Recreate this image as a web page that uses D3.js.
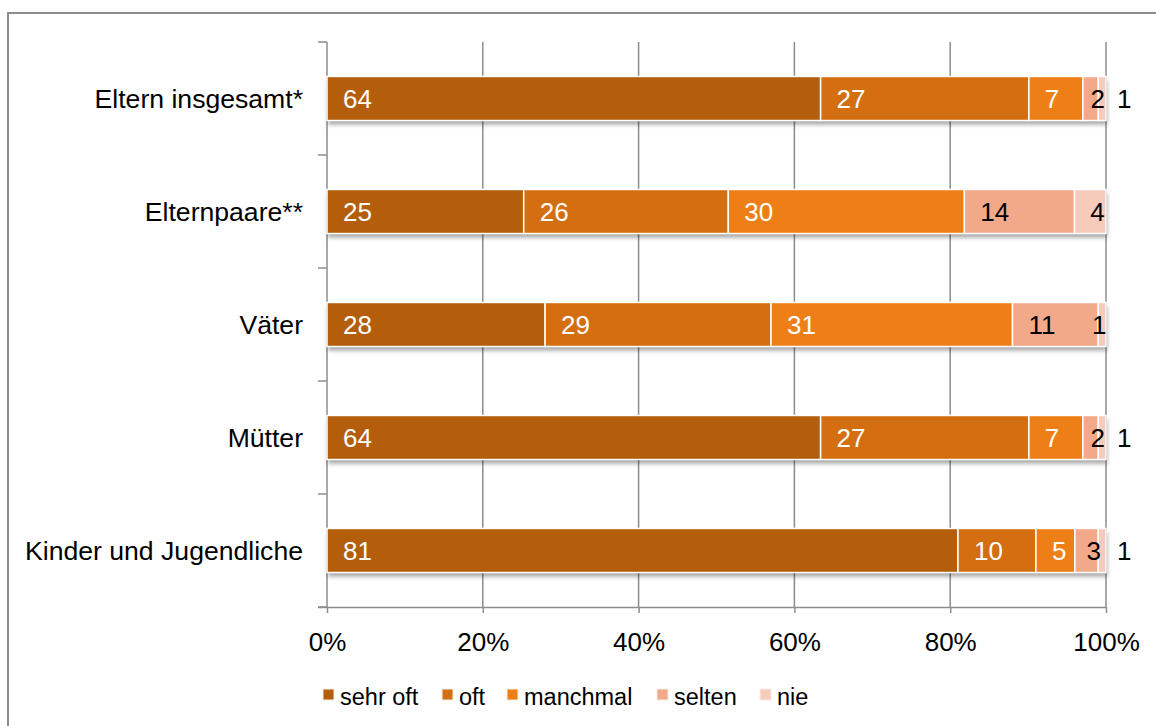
<!DOCTYPE html>
<html lang="de">
<head>
<meta charset="utf-8">
<script src="https://cdn.jsdelivr.net/npm/d3@7"></script>
<style>
  html, body { margin: 0; padding: 0; background: #fff; }
  svg { display: block; font-family: "Liberation Sans", Arial, sans-serif; }
</style>
</head>
<body>
<svg id="chart" width="1156" height="726"></svg>
<script>
// Gruppen (von oben nach unten)
const categories = ["Eltern insgesamt*", "Elternpaare**", "Väter", "Mütter", "Kinder und Jugendliche"];
// Antwortkategorien
const seriesNames = ["sehr oft", "oft", "manchmal", "selten", "nie"];
// Werte je Antwortkategorie, in der Reihenfolge der Gruppen
const sehrOft  = [64, 25, 28, 64, 81];
const oft      = [27, 26, 29, 27, 10];
const manchmal = [7, 30, 31, 7, 5];
const selten   = [2, 14, 11, 2, 3];
const nie      = [1, 4, 1, 1, 1];
const tickLabels = ["0%", "20%", "40%", "60%", "80%", "100%"];

const seriesValues = [sehrOft, oft, manchmal, selten, nie];
const colors = ["#b45e0b", "#d46f11", "#ee7f17", "#f2a98a", "#f7cbbb"];
const darkLabel = [false, false, false, true, true];
// Kleine "nie"-Segmente, deren Wert neben dem Balken steht
const outsideNie = new Set(["Eltern insgesamt*", "Mütter", "Kinder und Jugendliche"]);

const svg = d3.select("#chart");

// Rahmen
svg.append("path")
  .attr("d", "M8,740 L8,13 L1170,13")
  .attr("fill", "none").attr("stroke", "#8c8c8c").attr("stroke-width", 2);

const defs = svg.append("defs");
const f = defs.append("filter").attr("id", "shadow")
  .attr("x", "-5%").attr("y", "-20%").attr("width", "110%").attr("height", "160%");
f.append("feDropShadow").attr("dx", 1).attr("dy", 4).attr("stdDeviation", 2.2)
  .attr("flood-color", "#000").attr("flood-opacity", 0.35);

const x = d3.scaleLinear().domain([0, 1]).range([327, 1106]);
const y = d3.scaleBand().domain(categories).range([42, 607]).paddingInner(0.61).paddingOuter(0.305);

const grey = "#8c8c8c";

// Gitterlinien
svg.append("g").selectAll("line").data(d3.range(0.2, 1.01, 0.2)).join("line")
  .attr("x1", d => x(d)).attr("x2", d => x(d))
  .attr("y1", 42).attr("y2", 607)
  .attr("stroke", grey).attr("stroke-width", 1.5);

// x-Achse
const xAxis = d3.axisBottom(x).tickValues(d3.range(0, 1.01, 0.2))
  .tickFormat((d, i) => tickLabels[i]).tickSizeInner(6).tickSizeOuter(0);
const xa = svg.append("g").attr("transform", "translate(0,607)").call(xAxis);
xa.select(".domain").attr("d", `M318,0.5H${x(1)}`).attr("stroke", grey).attr("stroke-width", 1.5);
xa.selectAll(".tick line").attr("stroke", grey).attr("stroke-width", 1.5);
xa.selectAll(".tick text").attr("font-size", 26).attr("fill", "#000")
  .attr("dy", null).attr("y", 44)
  .attr("font-family", "Liberation Sans, Arial, sans-serif");

// y-Achse
svg.append("line").attr("x1", x(0)).attr("x2", x(0)).attr("y1", 42).attr("y2", 607)
  .attr("stroke", grey).attr("stroke-width", 1.5);
const step = y.step();
svg.selectAll("line.ytick").data(d3.range(categories.length + 1)).join("line")
  .attr("class", "ytick")
  .attr("x1", 318).attr("x2", x(0))
  .attr("y1", i => 42 + i * step).attr("y2", i => 42 + i * step)
  .attr("stroke", grey).attr("stroke-width", 1.5);
svg.selectAll("text.cat").data(categories).join("text")
  .attr("class", "cat")
  .attr("x", 303).attr("y", d => y(d) + y.bandwidth() / 2 + 9.5)
  .attr("text-anchor", "end").attr("font-size", 26.6).attr("fill", "#000")
  .text(d => d);

// Gestapelte Balken (auf 100 % normiert)
const rows = categories.map((c, i) => {
  const vals = seriesValues.map(s => s[i]);
  const total = d3.sum(vals);
  let acc = 0;
  return vals.map((v, k) => {
    const seg = { cat: c, k, v, x0: acc / total, x1: (acc + v) / total };
    acc += v;
    return seg;
  });
});

const bars = svg.append("g");
rows.forEach(row => {
  const rg = bars.append("g");
  // Schatten unter dem ganzen Balken
  rg.append("rect")
    .attr("x", x(0)).attr("y", y(row[0].cat))
    .attr("width", x(1) - x(0)).attr("height", y.bandwidth())
    .attr("fill", "#fff").attr("filter", "url(#shadow)");
  rg.selectAll("rect.seg").data(row).join("rect")
    .attr("class", "seg")
    .attr("x", d => x(d.x0)).attr("y", d => y(d.cat))
    .attr("width", d => x(d.x1) - x(d.x0)).attr("height", y.bandwidth())
    .attr("fill", d => colors[d.k])
    .attr("stroke", "#fff").attr("stroke-width", 1.5);
});

// Werte
const labels = svg.append("g").attr("font-size", 26);
rows.flat().forEach(d => {
  const w = x(d.x1) - x(d.x0);
  const cy = y(d.cat) + y.bandwidth() / 2 + 9.5;
  if (d.k === 4 && outsideNie.has(d.cat)) {
    labels.append("text").attr("x", x(1) + 11).attr("y", cy)
      .attr("fill", "#000").text(d.v);
    return;
  }
  const t = labels.append("text").attr("y", cy)
    .attr("fill", darkLabel[d.k] ? "#000" : "#fff").text(d.v);
  const tw = t.node().getComputedTextLength();
  const off = Math.min(16, w / 2, x(1) + 0.5 - tw - x(d.x0));
  t.attr("x", x(d.x0) + off);
});

// Legende
const legendX = [323, 442, 507, 657, 760];
const lg = svg.append("g");
seriesNames.forEach((n, i) => {
  lg.append("rect").attr("x", legendX[i]).attr("y", 689).attr("width", 11).attr("height", 11)
    .attr("fill", colors[i]).attr("stroke", "#f3ebe6").attr("stroke-width", 1);
  lg.append("text").attr("x", legendX[i] + 17).attr("y", 705)
    .attr("font-size", 23.5).attr("fill", "#000").text(n);
});
</script>
</body>
</html>
